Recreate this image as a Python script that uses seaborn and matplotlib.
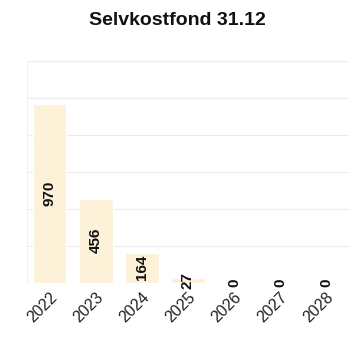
import pandas as pd
import seaborn as sns
import matplotlib.pyplot as plt

years = ["2022", "2023", "2024", "2025", "2026", "2027", "2028"]
fond = [970, 456, 164, 27, 0, 0, 0]

df = pd.DataFrame({"år": years, "fond": fond})

sns.set_style("white")
plt.rcParams["font.family"] = ["Liberation Sans", "DejaVu Sans"]

fig = plt.figure(figsize=(3.54, 3.4), dpi=100)
ax = fig.add_axes([0.076, 0.168, 0.91, 0.652])

sns.barplot(data=df, x="år", y="fond", color="#fdf2d8", saturation=1,
            width=0.72, ax=ax, zorder=2)

ax.set_ylim(0, 1200)
ax.set_yticks(range(0, 1201, 200))
ax.yaxis.grid(True, color="#ececec", linewidth=0.8, zorder=0)
ax.set_yticklabels([])
ax.tick_params(axis="y", length=0)
ax.set_xlabel("")
ax.set_ylabel("")
for s in ["top", "right", "bottom"]:
    ax.spines[s].set_visible(False)
ax.spines["left"].set_color("#f0f0f0")

# verdier midt i søylene
for i, v in enumerate(fond):
    ax.text(i, v / 2, str(v), rotation=90, ha="center", va="center",
            fontsize=11, fontweight="bold", color="#111111", zorder=3)

plt.setp(ax.get_xticklabels(), rotation=45, ha="right", rotation_mode="anchor",
         fontsize=11.5, color="#222222")
ax.tick_params(axis="x", length=0, pad=5)

fig.text(0.5, 0.94, "Selvkostfond 31.12", ha="center", va="center",
         fontsize=14, fontweight="bold", color="#111111")

fig.savefig("out.png", dpi=100)
